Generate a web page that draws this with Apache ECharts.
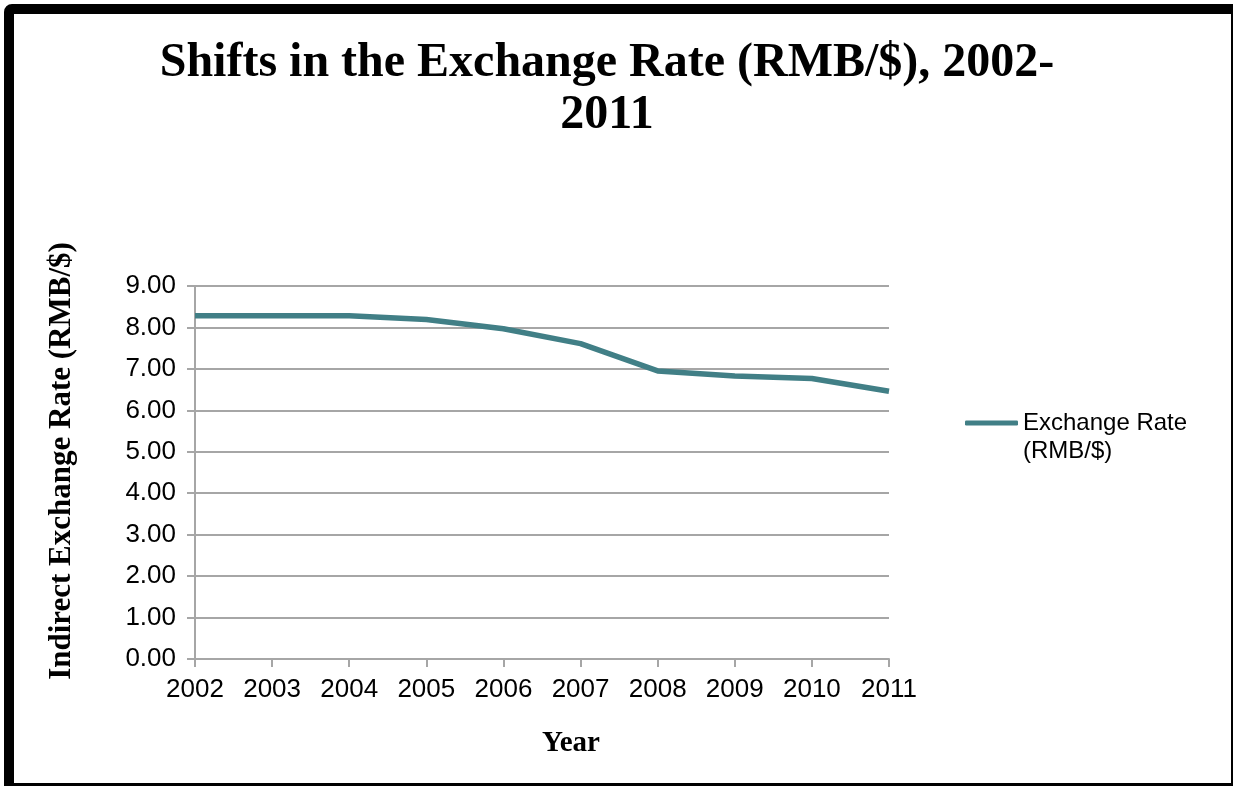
<!DOCTYPE html>
<html>
<head>
<meta charset="utf-8">
<script src="https://cdn.jsdelivr.net/npm/echarts@6/dist/echarts.min.js"></script>
<style>
  html, body { margin: 0; padding: 0; background: #fff; }
  #chart { position: absolute; left: 0; top: 0; width: 1233px; height: 786px; }
  #frame {
    position: absolute; left: 4px; top: 4px; width: 1217px; height: 769px;
    border-left: 10px solid #000; border-top: 10px solid #000;
    border-right: 2px solid #000; border-bottom: 3px solid #000;
    border-top-left-radius: 8px; pointer-events: none;
  }
</style>
</head>
<body>
<div id="chart"></div>
<div id="frame"></div>
<script>
const years = ['2002','2003','2004','2005','2006','2007','2008','2009','2010','2011'];
const exchangeRate = [8.28, 8.28, 8.28, 8.19, 7.97, 7.61, 6.95, 6.83, 6.77, 6.46];
const seriesName = 'Exchange Rate (RMB/$)';
const titleLines = ['Shifts in the Exchange Rate (RMB/$), 2002-', '2011'];
const yTicks = { min: 0, max: 9, interval: 1 };

const titleFont = 'bold 48px "Liberation Serif"';
const chart = echarts.init(document.getElementById('chart'), null, { renderer: 'canvas' });
chart.setOption({
  backgroundColor: '#fff',
  animation: false,
  graphic: [
    { type: 'text', x: 607, y: 64,
      style: { text: titleLines[0], font: titleFont, fill: '#000', align: 'center', verticalAlign: 'middle' } },
    { type: 'text', x: 607, y: 116,
      style: { text: titleLines[1], font: titleFont, fill: '#000', align: 'center', verticalAlign: 'middle' } }
  ],
  legend: {
    left: 960, top: 376,
    orient: 'vertical',
    icon: 'roundRect',
    itemWidth: 53, itemHeight: 5,
    itemGap: 4,
    formatter: function () { return '\nExchange Rate\n(RMB/$)'; },
    textStyle: {
      fontFamily: 'Liberation Sans', fontSize: 24, lineHeight: 28, color: '#000'
    }
  },
  grid: { left: 195, top: 286, right: 344, bottom: 127, containLabel: false },
  xAxis: {
    type: 'category',
    data: years,
    boundaryGap: false,
    name: 'Year',
    nameLocation: 'middle',
    nameGap: 70,
    nameTextStyle: {
      fontFamily: 'Liberation Serif', fontWeight: 'bold', fontSize: 29, color: '#000',
      padding: [0, 0, 0, 58]
    },
    axisLine: { lineStyle: { color: '#a6a6a6', width: 2 } },
    axisTick: { show: true, length: 8, alignWithLabel: true, lineStyle: { color: '#a6a6a6', width: 2 } },
    axisLabel: { fontFamily: 'Liberation Sans', fontSize: 26, color: '#000', margin: 18 },
    splitLine: { show: false }
  },
  yAxis: {
    type: 'value',
    min: yTicks.min, max: yTicks.max, interval: yTicks.interval,
    name: 'Indirect Exchange Rate (RMB/$)',
    nameLocation: 'middle',
    nameGap: 118,
    nameTextStyle: {
      fontFamily: 'Liberation Serif', fontWeight: 'bold', fontSize: 31, color: '#000',
      padding: [0, 0, 0, 23]
    },
    axisLine: { show: true, lineStyle: { color: '#a6a6a6', width: 2 } },
    axisTick: { show: true, length: 8, lineStyle: { color: '#a6a6a6', width: 2 } },
    axisLabel: {
      fontFamily: 'Liberation Sans', fontSize: 26, color: '#000', margin: 19,
      formatter: v => v.toFixed(2)
    },
    splitLine: { show: true, lineStyle: { color: '#a6a6a6', width: 2 } }
  },
  series: [{
    name: seriesName,
    type: 'line',
    data: exchangeRate,
    symbol: 'none',
    lineStyle: { color: '#417f86', width: 5.5 },
    itemStyle: { color: '#417f86' }
  }]
});
</script>
</body>
</html>
